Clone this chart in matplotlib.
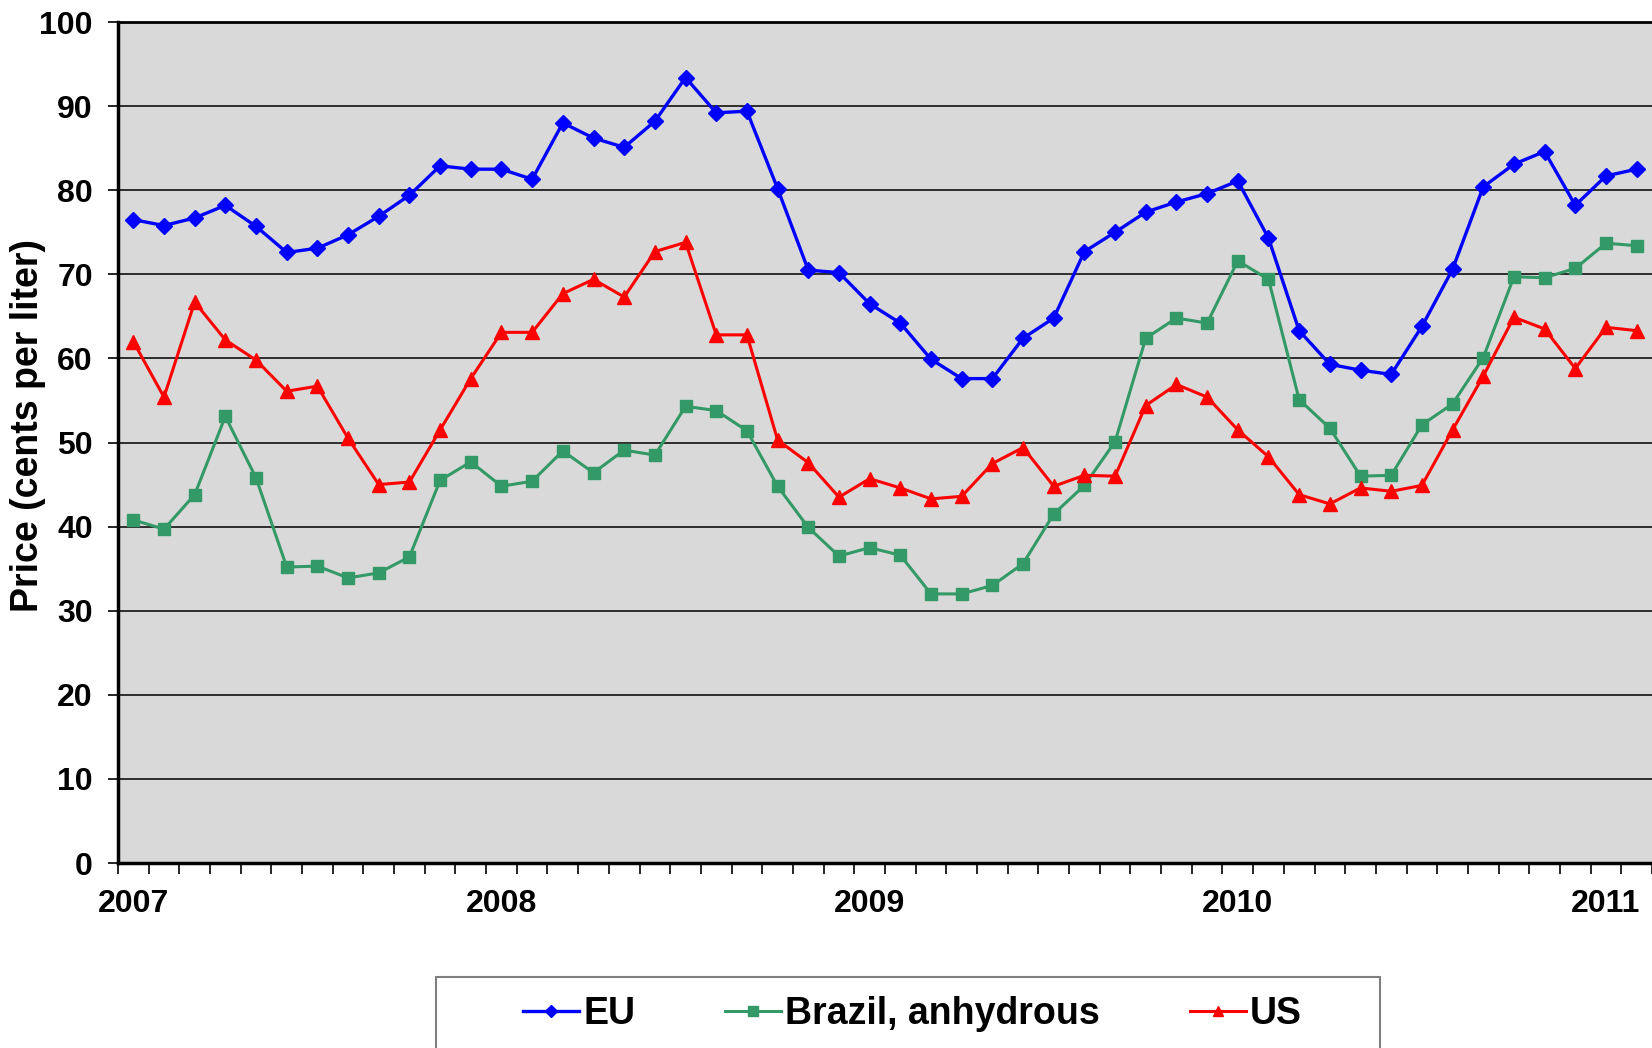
import matplotlib
matplotlib.use("Agg")
import matplotlib.pyplot as plt
from matplotlib.patches import Rectangle

plt.rcParams['font.family'] = ['Liberation Sans', 'DejaVu Sans']
plt.rcParams['font.weight'] = 'bold'

# monthly prices, Jan 2007 .. Feb 2011 (cents per liter)
eu = [76.5, 75.8, 76.7, 78.2, 75.7, 72.6, 73.1, 74.7, 76.9, 79.4, 82.9, 82.5,
      82.5, 81.3, 88.0, 86.2, 85.1, 88.2, 93.4, 89.2, 89.4, 80.2, 70.5, 70.2,
      66.5, 64.2, 59.9, 57.6, 57.6, 62.4, 64.8, 72.7, 75.0, 77.4, 78.6, 79.6,
      81.1, 74.3, 63.3, 59.3, 58.6, 58.1, 63.8, 70.6, 80.4, 83.1, 84.6, 78.2,
      81.7, 82.5]
brazil = [40.8, 39.7, 43.8, 53.1, 45.8, 35.2, 35.3, 33.9, 34.5, 36.4, 45.5, 47.7,
          44.8, 45.4, 49.0, 46.4, 49.1, 48.5, 54.3, 53.8, 51.4, 44.8, 39.9, 36.5,
          37.5, 36.6, 32.0, 32.0, 33.0, 35.6, 41.5, 44.9, 50.1, 62.4, 64.8, 64.2,
          71.6, 69.4, 55.1, 51.7, 46.0, 46.1, 52.1, 54.6, 60.1, 69.7, 69.6, 70.7,
          73.7, 73.4]
us = [62.0, 55.4, 66.7, 62.2, 59.8, 56.1, 56.7, 50.5, 45.0, 45.3, 51.5, 57.6,
      63.1, 63.1, 67.7, 69.4, 67.3, 72.7, 73.8, 62.8, 62.8, 50.3, 47.6, 43.5,
      45.7, 44.6, 43.3, 43.6, 47.5, 49.4, 44.8, 46.1, 46.0, 54.4, 56.9, 55.4,
      51.5, 48.3, 43.8, 42.7, 44.6, 44.2, 44.9, 51.5, 57.9, 64.9, 63.5, 58.8,
      63.7, 63.3]
year_labels = ['2007', '2008', '2009', '2010', '2011']

months = list(range(len(eu)))

fig = plt.figure(figsize=(16.52, 10.48), dpi=100)
ax = fig.add_axes([0.0714, 0.1765, 0.9286, 0.979 - 0.1765])
ax.set_facecolor('#D9D9D9')

ax.plot(months, eu, color='#0000FF', lw=2.4, marker='D', ms=8.5, label='EU')
ax.plot(months, brazil, color='#339966', lw=2.2, marker='s', ms=9, label='Brazil, anhydrous')
ax.plot(months, us, color='#FF0000', lw=2.2, marker='^', ms=10.5, label='US')

ax.set_xlim(-0.5, len(eu) - 0.5)
ax.set_ylim(0, 100)
ax.set_yticks(range(0, 101, 10))
ax.yaxis.grid(True, color='black', lw=1.1)
ax.set_axisbelow(True)

ax.set_xticks([0, 12, 24, 36, 48])
ax.set_xticklabels(year_labels)
ax.set_xticks([m - 0.5 for m in range(len(eu) + 1)], minor=True)
ax.tick_params(axis='x', which='major', length=0, pad=19, labelsize=23)
ax.tick_params(axis='x', which='minor', length=8, width=1.2, direction='out')
ax.tick_params(axis='y', length=7, width=1.2, pad=11, labelsize=23)

for side in ['left', 'bottom']:
    ax.spines[side].set_linewidth(2.5)
ax.spines['top'].set_linewidth(2)
ax.spines['right'].set_visible(False)

ax.set_ylabel('Price (cents per liter)', fontsize=27, fontweight='bold')
ax.yaxis.set_label_coords(-0.047, 0.52)

# legend box runs off the bottom of the picture
fig.patches.append(Rectangle((0.2639, -0.05), 0.5714, 0.0677 + 0.05,
                             transform=fig.transFigure, fill=False,
                             edgecolor='#808080', lw=1.5))
fig.legend(loc='center', bbox_to_anchor=(0.5524, 0.0324), ncol=3, frameon=False,
           fontsize=27, handlelength=1.5, handletextpad=0.1, columnspacing=2.4,
           borderpad=0, markerscale=0.75)

fig.savefig('out.png', dpi=100)
